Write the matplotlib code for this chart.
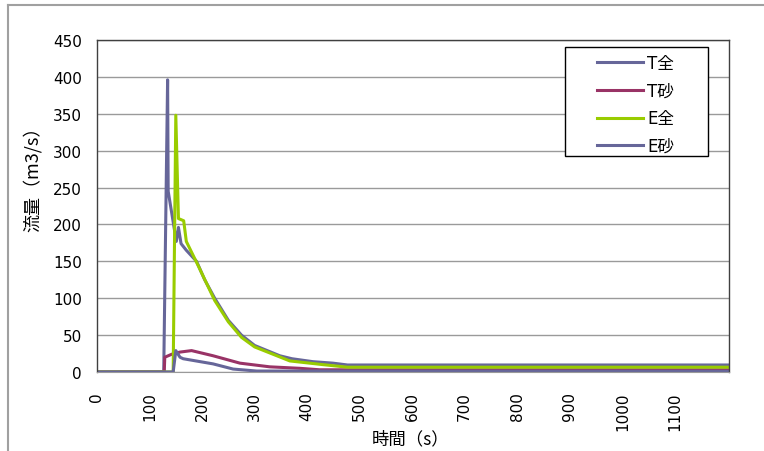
import matplotlib
matplotlib.use("Agg")
import matplotlib.pyplot as plt
from matplotlib.lines import Line2D
from matplotlib.patches import Rectangle

plt.rcParams['font.family'] = ['DejaVu Sans', 'Noto Sans CJK JP']

# ---- data ----
t_T_all = [0, 127, 134.4, 135.5, 151, 155, 160, 170, 189.5, 205, 224, 250, 275, 300, 348, 371, 411, 449, 477, 1203]
v_T_all = [0, 0, 396, 245, 177, 196, 174, 165, 150, 125, 100, 70, 50, 36, 22, 18, 14, 12, 9.5, 9.5]

t_T_sand = [0, 128, 129, 142, 158, 180, 221, 272, 329, 386, 424, 1203]
v_T_sand = [0, 0, 20, 24, 27, 29, 22, 12, 7, 5, 3, 3]

t_E_all = [0, 145, 150, 155, 165, 170, 192, 224, 250, 275, 300, 367, 430, 477, 1203]
v_E_all = [0, 0, 348, 208, 205, 177, 145, 97, 68, 47, 34, 15, 10, 6.5, 6.5]

t_E_sand = [0, 145, 150, 158, 164, 221, 259, 304, 1203]
v_E_sand = [0, 0, 29, 20, 18, 11, 4, 1.3, 1]

labels = ['T全', 'T砂', 'E全', 'E砂']
colors = ['#666699', '#993366', '#99cc00', '#666699']
y_ticks = list(range(0, 451, 50))
x_ticks = list(range(0, 1101, 100))

W, H = 764, 452
fig = plt.figure(figsize=(W/100, H/100), dpi=100)
ax = fig.add_axes([97/W, 79/H, 632/W, 332/H])

series = [(t_T_all, v_T_all), (t_T_sand, v_T_sand), (t_E_all, v_E_all), (t_E_sand, v_E_sand)]
for (t, v), lab, c in zip(series, labels, colors):
    ax.plot(t, v, color=c, lw=2.2, label=lab, solid_joinstyle='round')

ax.set_xlim(0, 1203)
ax.set_ylim(0, 450)
ax.set_yticks(y_ticks)
ax.set_xticks(x_ticks)
ax.set_xticklabels([str(x) for x in x_ticks], rotation=90, fontsize=11)
ax.tick_params(axis='x', length=0, pad=14)
ax.tick_params(axis='y', length=0, pad=11, labelsize=11)
ax.grid(axis='y', color='#9a9a9a', lw=1)
ax.set_axisbelow(True)
for s in ['top', 'right', 'left']:
    ax.spines[s].set_color('#404040')
    ax.spines[s].set_linewidth(1)
ax.spines['bottom'].set_color('#9a9a9a')

ax.set_xlabel('時間（s）', fontsize=12.5, family=['Noto Sans CJK JP', 'DejaVu Sans'])
ax.xaxis.set_label_coords((411-97)/632, (373-439)/332)
ax.set_ylabel('流量（m3/s）', fontsize=13, family=['Noto Sans CJK JP', 'DejaVu Sans'])
ax.yaxis.set_label_coords((32-97)/632, (373-175)/332)
ax.xaxis.label.set_va('center')
ax.yaxis.label.set_va('center')

# legend box (white, covering gridlines) + frameless legend inside
box = Rectangle((565/W, 1-157/H), 143/W, 109/H, transform=fig.transFigure,
                facecolor='white', edgecolor='black', lw=1, zorder=4)
ax.add_artist(box)
box.set_clip_on(False)
leg = ax.legend(loc='upper left', bbox_to_anchor=(597/W, 1-55/H), bbox_transform=fig.transFigure,
                fontsize=12, handlelength=2.75, handletextpad=0.25, labelspacing=0.58,
                frameon=False, borderpad=0, borderaxespad=0)
leg.set_zorder(5)

# outer chart border
fig.add_artist(Line2D([8/W, 1], [1-6/H, 1-6/H], transform=fig.transFigure, color='#a0a0a0', lw=1.5))
fig.add_artist(Line2D([8/W, 8/W], [0, 1-6/H], transform=fig.transFigure, color='#a0a0a0', lw=1.5))

fig.savefig('out.png', dpi=100)
